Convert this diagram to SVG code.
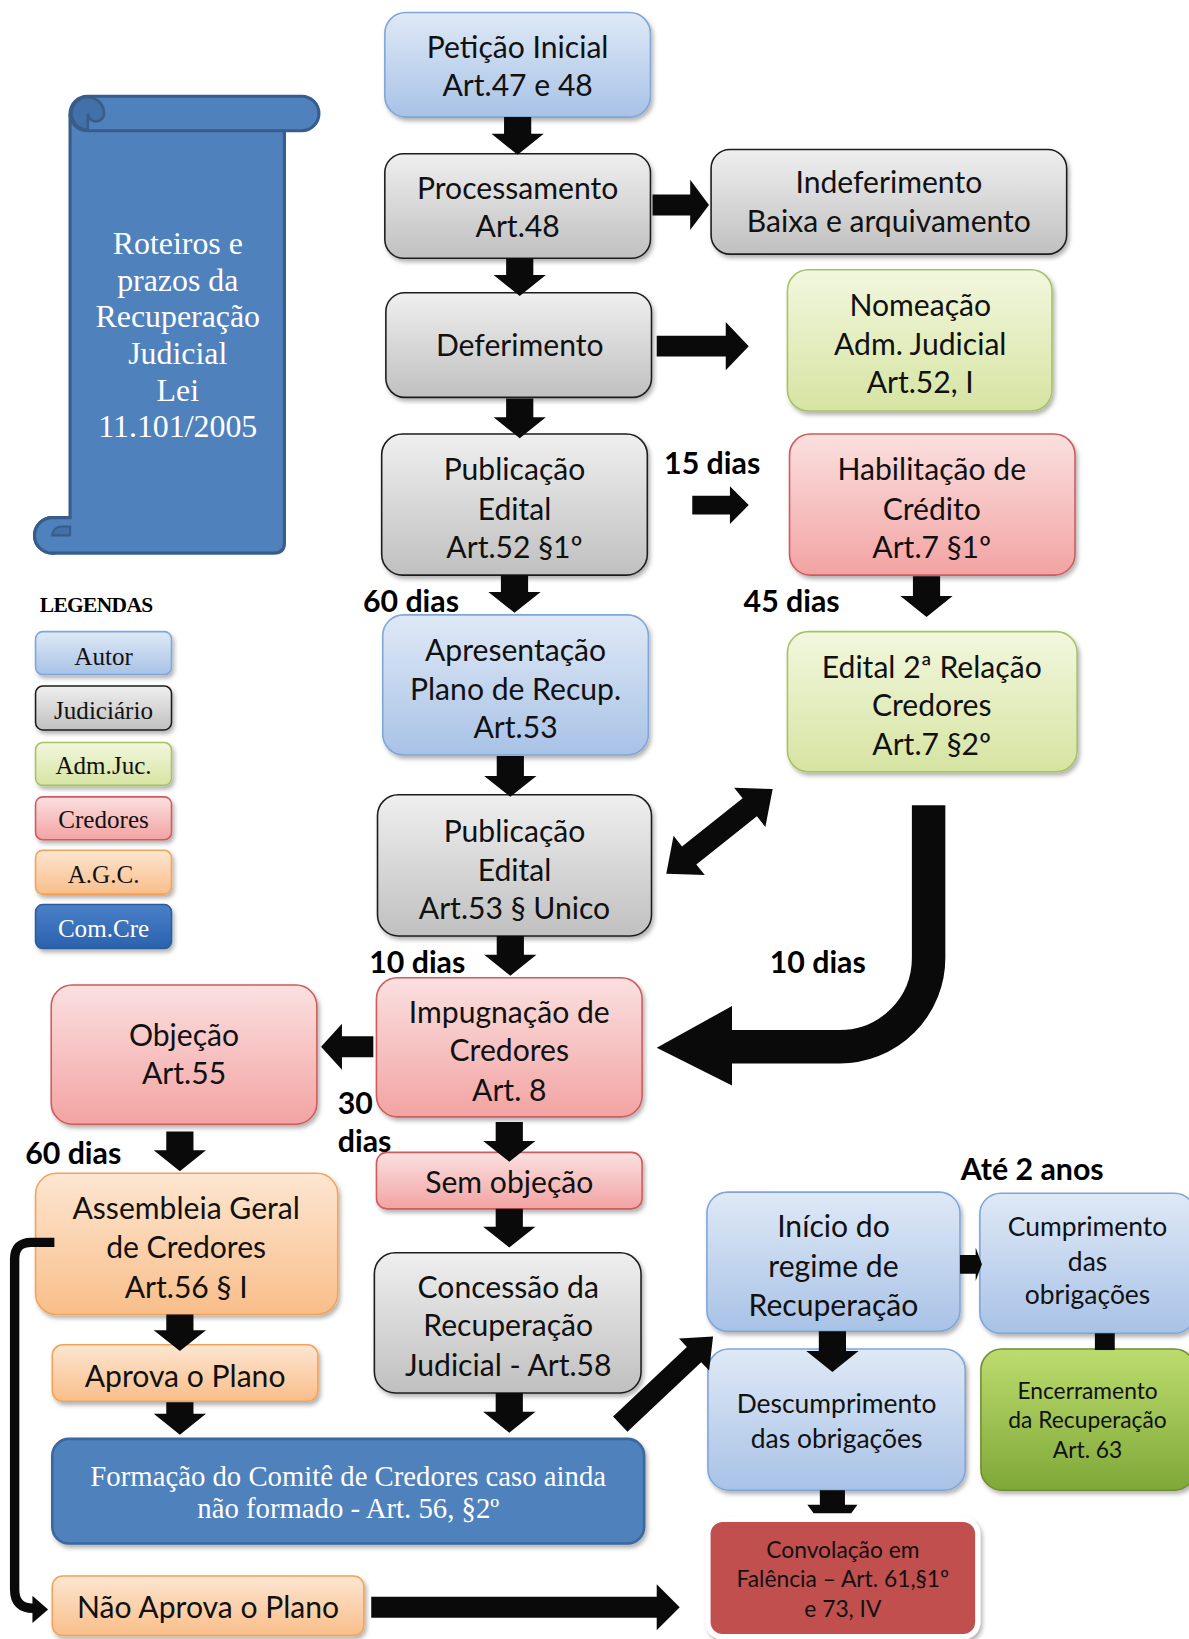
<svg xmlns="http://www.w3.org/2000/svg" width="1189" height="1639" viewBox="0 0 1189 1639">
<defs>
<linearGradient id="gBlue" x1="0" y1="0" x2="0" y2="1"><stop offset="0" stop-color="#dfe9f6"/><stop offset="1" stop-color="#a8c2e6"/></linearGradient>
<linearGradient id="gGray" x1="0" y1="0" x2="0" y2="1"><stop offset="0" stop-color="#efefef"/><stop offset="1" stop-color="#c0c0c0"/></linearGradient>
<linearGradient id="gGreen" x1="0" y1="0" x2="0" y2="1"><stop offset="0" stop-color="#f2f7de"/><stop offset="1" stop-color="#d6e4a2"/></linearGradient>
<linearGradient id="gPink" x1="0" y1="0" x2="0" y2="1"><stop offset="0" stop-color="#fbe0e0"/><stop offset="1" stop-color="#f3a3a3"/></linearGradient>
<linearGradient id="gOrange" x1="0" y1="0" x2="0" y2="1"><stop offset="0" stop-color="#fde6d1"/><stop offset="1" stop-color="#f9be8a"/></linearGradient>
<linearGradient id="gCom" x1="0" y1="0" x2="0" y2="1"><stop offset="0" stop-color="#4a80c8"/><stop offset="1" stop-color="#2a62ae"/></linearGradient>
<linearGradient id="gEnc" x1="0" y1="0" x2="0" y2="1"><stop offset="0" stop-color="#bcdc6e"/><stop offset="1" stop-color="#7fa838"/></linearGradient>
<filter id="sh" x="-10%" y="-10%" width="125%" height="130%"><feDropShadow dx="2" dy="3" stdDeviation="2.2" flood-color="#000" flood-opacity="0.3"/></filter>
</defs>
<style>
.t{font-family:Lato,"Open Sans",sans-serif;font-size:28.8px;fill:#111;text-anchor:middle}
.sm{font-size:25.3px}
.xs{font-size:21.8px}
.s{font-family:"Liberation Serif","Times New Roman",serif;text-anchor:middle}
.lb{font-family:Lato,"Open Sans",sans-serif;font-weight:bold;font-size:29px;fill:#000}
.blue{fill:url(#gBlue);stroke:#7ea6d9;stroke-width:1.5;filter:url(#sh)}
.gray{fill:url(#gGray);stroke:#1e1e1e;stroke-width:1.5;filter:url(#sh)}
.green{fill:url(#gGreen);stroke:#a5c364;stroke-width:1.5;filter:url(#sh)}
.pink{fill:url(#gPink);stroke:#cf5b5b;stroke-width:1.5;filter:url(#sh)}
.orange{fill:url(#gOrange);stroke:#f4a259;stroke-width:1.5;filter:url(#sh)}
.dblue{fill:#4f81bd;stroke:#3a679e;stroke-width:2.5;filter:url(#sh)}
.arr{fill:#0a0a0a}
</style>
<g transform="scale(1.045734)">
<g id="scroll">
<circle cx="50" cy="512" r="17" fill="#4f81bd" stroke="#385d8a" stroke-width="3"/>
<path d="M67 110 H272 V519 Q272 529 262 529 H50 A17 17 0 0 1 50 495 H67 Z" fill="#4f81bd" stroke="#385d8a" stroke-width="3"/>
<path d="M50 512 A8.5 8.5 0 0 1 58.5 503.5 H67 V512 Z" fill="#4270a8" stroke="#385d8a" stroke-width="2"/>
<rect x="67" y="92" width="238" height="33" rx="16.5" fill="#4f81bd" stroke="#385d8a" stroke-width="3"/>
<path d="M84 124 A15.5 15.5 0 0 1 84 93 A15.5 15.5 0 0 1 99.5 108.5 A7.7 7.7 0 0 1 84 108.5 Z" fill="#4270a8" stroke="#385d8a" stroke-width="2.5"/>
<g class="s" fill="#fff" font-size="30.5">
<text x="170" y="243">Roteiros e</text>
<text x="170" y="278">prazos da</text>
<text x="170" y="313">Recuperação</text>
<text x="170" y="348">Judicial</text>
<text x="170" y="383">Lei</text>
<text x="170" y="418">11.101/2005</text>
</g>
</g>
<g id="legend">
<text x="38" y="585" font-family="Liberation Serif,serif" font-weight="bold" font-size="20.5" letter-spacing="-0.6">LEGENDAS</text>
<g id="leg-autor"><rect class="blue" x="34" y="604" width="130" height="41" rx="7"/><text class="s" x="99" y="636" font-size="24" fill="#111">Autor</text></g>
<g id="leg-judiciario"><rect class="gray" x="34" y="656" width="130" height="42" rx="7"/><text class="s" x="99" y="688" font-size="24" fill="#111">Judiciário</text></g>
<g id="leg-adm"><rect class="green" x="34" y="710" width="130" height="41" rx="7"/><text class="s" x="99" y="740" font-size="24" fill="#111">Adm.Juc.</text></g>
<g id="leg-credores"><rect class="pink" x="34" y="762" width="130" height="41" rx="7"/><text class="s" x="99" y="792" font-size="24" fill="#111">Credores</text></g>
<g id="leg-agc"><rect class="orange" x="34" y="813" width="130" height="42" rx="7"/><text class="s" x="99" y="844" font-size="24" fill="#111">A.G.C.</text></g>
<g id="leg-comcre"><rect x="34" y="865" width="130" height="42" rx="7" fill="url(#gCom)" stroke="#2a5c9e" stroke-width="1.5" filter="url(#sh)"/><text class="s" x="99" y="896" font-size="24" fill="#fff">Com.Cre</text></g>
</g>
<g id="peticao"><rect class="blue" x="368" y="12" width="254" height="100" rx="20"/><text class="t" x="495" y="55">Petição Inicial</text><text class="t" x="495" y="92">Art.47 e 48</text></g>
<g id="processamento"><rect class="gray" x="368" y="147" width="254" height="100" rx="18"/><text class="t" x="495" y="190">Processamento</text><text class="t" x="495" y="227">Art.48</text></g>
<g id="indeferimento"><rect class="gray" x="680" y="143" width="340" height="100" rx="18"/><text class="t" x="850" y="185">Indeferimento</text><text class="t" x="850" y="222">Baixa e arquivamento</text></g>
<g id="deferimento"><rect class="gray" x="369" y="280" width="254" height="100" rx="18"/><text class="t" x="497" y="340">Deferimento</text></g>
<g id="nomeacao"><rect class="green" x="753" y="258" width="253" height="135" rx="20"/><text class="t" x="880" y="302">Nomeação</text><text class="t" x="880" y="339">Adm. Judicial</text><text class="t" x="880" y="376">Art.52, I</text></g>
<g id="publicacao1"><rect class="gray" x="365" y="415" width="254" height="135" rx="20"/><text class="t" x="492" y="459">Publicação</text><text class="t" x="492" y="497">Edital</text><text class="t" x="492" y="534">Art.52 §1º</text></g>
<g id="habilitacao"><rect class="pink" x="755" y="415" width="273" height="135" rx="20"/><text class="t" x="891" y="459">Habilitação de</text><text class="t" x="891" y="497">Crédito</text><text class="t" x="891" y="534">Art.7 §1º</text></g>
<g id="apresentacao"><rect class="blue" x="366" y="588" width="254" height="134" rx="20"/><text class="t" x="493" y="632">Apresentação</text><text class="t" x="493" y="669">Plano de Recup.</text><text class="t" x="493" y="706">Art.53</text></g>
<g id="edital2"><rect class="green" x="753" y="604" width="277" height="134" rx="20"/><text class="t" x="891" y="648">Edital 2ª Relação</text><text class="t" x="891" y="685">Credores</text><text class="t" x="891" y="722">Art.7 §2º</text></g>
<g id="publicacao2"><rect class="gray" x="361" y="760" width="262" height="135" rx="20"/><text class="t" x="492" y="805">Publicação</text><text class="t" x="492" y="842">Edital</text><text class="t" x="492" y="879">Art.53 § Unico</text></g>
<g id="impugnacao"><rect class="pink" x="360" y="935" width="254" height="133" rx="20"/><text class="t" x="487" y="978">Impugnação de</text><text class="t" x="487" y="1015">Credores</text><text class="t" x="487" y="1053">Art. 8</text></g>
<g id="objecao"><rect class="pink" x="49" y="942" width="254" height="133" rx="20"/><text class="t" x="176" y="1000">Objeção</text><text class="t" x="176" y="1037">Art.55</text></g>
<g id="semobjecao"><rect class="pink" x="360" y="1102" width="254" height="54" rx="10"/><text class="t" x="487" y="1141">Sem objeção</text></g>
<g id="assembleia"><rect class="orange" x="34" y="1122" width="289" height="135" rx="20"/><text class="t" x="178" y="1166">Assembleia Geral</text><text class="t" x="178" y="1203">de Credores</text><text class="t" x="178" y="1241">Art.56 § I</text></g>
<g id="concessao"><rect class="gray" x="358" y="1198" width="255" height="134" rx="20"/><text class="t" x="486" y="1241">Concessão da</text><text class="t" x="486" y="1278">Recuperação</text><text class="t" x="486" y="1316">Judicial - Art.58</text></g>
<g id="aprova"><rect class="orange" x="50" y="1286" width="254" height="54" rx="10"/><text class="t" x="177" y="1326">Aprova o Plano</text></g>
<g id="formacao"><rect class="dblue" x="50" y="1376" width="566" height="100" rx="16"/><text class="s" x="333" y="1421" font-size="27.5" fill="#fff">Formação do Comitê de Credores caso ainda</text><text class="s" x="333" y="1452" font-size="27.5" fill="#fff">não formado - Art. 56, §2º</text></g>
<g id="inicio"><rect class="blue" x="676" y="1140" width="242" height="133" rx="20"/><text class="t" x="797" y="1183">Início do</text><text class="t" x="797" y="1221">regime de</text><text class="t" x="797" y="1258">Recuperação</text></g>
<g id="cumprimento"><rect class="blue" x="937" y="1141" width="206" height="134" rx="20"/><text class="t sm" x="1040" y="1182">Cumprimento</text><text class="t sm" x="1040" y="1215">das</text><text class="t sm" x="1040" y="1247">obrigações</text></g>
<g id="descumprimento"><rect class="blue" x="677" y="1290" width="246" height="135" rx="20"/><text class="t sm" x="800" y="1351">Descumprimento</text><text class="t sm" x="800" y="1385">das obrigações</text></g>
<g id="encerramento"><rect x="938" y="1290" width="205" height="135" rx="20" fill="url(#gEnc)" stroke="#6f8f30" stroke-width="1.5" filter="url(#sh)"/><text class="t xs" x="1040" y="1338">Encerramento</text><text class="t xs" x="1040" y="1366">da Recuperação</text><text class="t xs" x="1040" y="1394">Art. 63</text></g>
<g id="convolacao"><rect x="677" y="1453" width="258" height="112" rx="14" fill="#c0504d" stroke="#fff" stroke-width="5" filter="url(#sh)"/><text class="t xs" x="806" y="1490">Convolação em</text><text class="t xs" x="806" y="1518">Falência – Art. 61,§1º</text><text class="t xs" x="806" y="1546">e 73, IV</text></g>
<g id="naoaprova"><rect class="orange" x="50" y="1507" width="298" height="57" rx="10"/><text class="t" x="199" y="1547">Não Aprova o Plano</text></g>
<g id="connectors">
<path class="arr" d="M482 112 H508 V128 H520 L495 148 L470 128 H482 Z"/>
<path class="arr" d="M484 247 H510 V263 H522 L497 283 L472 263 H484 Z"/>
<path class="arr" d="M484 381 H510 V399 H522 L497 419 L472 399 H484 Z"/>
<path class="arr" d="M479 550 H505 V566 H517 L492 586 L467 566 H479 Z"/>
<path class="arr" d="M873 551 H899 V570 H911 L886 590 L861 570 H873 Z"/>
<path class="arr" d="M475 723 H501 V742 H513 L488 762 L463 742 H475 Z"/>
<path class="arr" d="M475 895 H501 V913 H513 L488 933 L463 913 H475 Z"/>
<path class="arr" d="M474 1073 H500 V1091 H512 L487 1111 L462 1091 H474 Z"/>
<path class="arr" d="M159 1082 H185 V1100 H197 L172 1120 L147 1100 H159 Z"/>
<path class="arr" d="M474 1156 H500 V1173 H512 L487 1193 L462 1173 H474 Z"/>
<path class="arr" d="M159 1257 H185 V1272 H197 L172 1292 L147 1272 H159 Z"/>
<path class="arr" d="M159 1341 H185 V1352 H197 L172 1372 L147 1352 H159 Z"/>
<path class="arr" d="M474 1332 H500 V1350 H512 L487 1370 L462 1350 H474 Z"/>
<path class="arr" d="M783 1273 H809 V1292 H821 L796 1312 L771 1292 H783 Z"/>
<path class="arr" d="M784 1425 H808 V1439 H820 L814 1447 H778 L772 1439 H784 Z"/>
<path class="arr" d="M624 186 H660 V172 L678 196 L660 220 V206 H624 Z"/>
<path class="arr" d="M628 321 H694 V308 L716 331 L694 354 V341 H628 Z"/>
<path class="arr" d="M662 474 H698 V465 L716 483 L698 501 V492 H662 Z"/>
<path class="arr" d="M918 1200 H933 V1193 L939 1209 L933 1225 V1218 H918 Z"/>
<path class="arr" d="M355 1527 H628 V1515 L650 1537 L628 1559 V1547 H355 Z"/>
<path class="arr" d="M357 991 H327 V979 L307 1001 L327 1023 V1011 H357 Z"/>
<rect class="arr" x="1047" y="1275" width="19" height="16"/>
<path class="arr" transform="translate(688,795) rotate(-38.5)" d="M-65 0 L-37 -24 L-37 -11 L37 -11 L37 -24 L65 0 L37 24 L37 11 L-37 11 L-37 24 Z"/>
<path class="arr" transform="translate(637.5,1320) rotate(-43.3)" d="M-61 -10 L36 -10 L36 -21 L61 0 L36 21 L36 10 L-61 10 Z"/>
<path d="M888 770 V916 A85 85 0 0 1 803 1001 H698" fill="none" stroke="#0a0a0a" stroke-width="32"/>
<path class="arr" d="M700 962 L628 1002 L700 1038 Z"/>
<path d="M52 1188 H30 Q14 1188 14 1204 V1520 Q14 1538 32 1538" fill="none" stroke="#0a0a0a" stroke-width="9"/>
<path class="arr" d="M31 1526 L46 1539 L31 1552 Z"/>
</g>
<g id="labels" class="lb">
<text x="681" y="453" text-anchor="middle">15 dias</text>
<text x="393" y="585" text-anchor="middle">60 dias</text>
<text x="757" y="585" text-anchor="middle">45 dias</text>
<text x="399" y="930" text-anchor="middle">10 dias</text>
<text x="782" y="930" text-anchor="middle">10 dias</text>
<text x="323" y="1065">30</text>
<text x="323" y="1102">dias</text>
<text x="70" y="1113" text-anchor="middle">60 dias</text>
<text x="987" y="1128" text-anchor="middle">Até 2 anos</text>
</g>
</g>
</svg>
